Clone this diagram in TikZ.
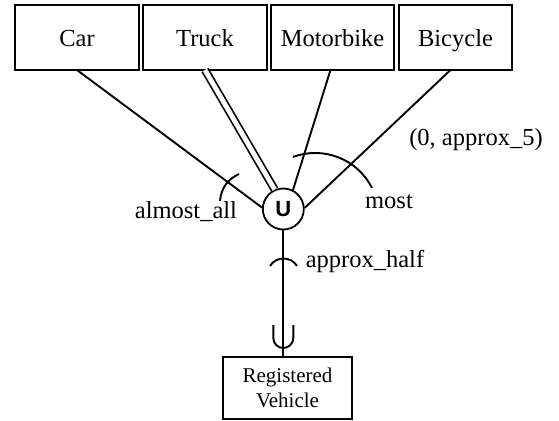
\documentclass[tikz,border=0pt]{standalone}
\usepackage{fontspec}
\setmainfont{Liberation Serif}
\newfontfamily\unionfont{Liberation Sans}
\usetikzlibrary{positioning}

\begin{document}
\begin{tikzpicture}[x=1pt,y=1pt,
		VehBox/.style={draw, line width=1.8pt, minimum height=65pt, inner sep=0pt, outer sep=0pt, text height=18pt, text depth=0pt, font=\fontsize{24.5}{28}\selectfont},
		Link/.style={line width=1.9pt},
		Quant/.style={anchor=base, inner sep=0pt, font=\fontsize{24.5}{28}\selectfont}]
		\useasboundingbox (0,0) rectangle (559,-420);
		% subclasses
		\node[VehBox, minimum width=124pt] (car) at (77,-37.5) {Car};
		\node[VehBox, minimum width=124pt, right=4pt of car] (truck) {Truck};
		\node[VehBox, minimum width=123pt, right=4pt of truck] (motorbike) {Motorbike};
		\node[VehBox, minimum width=113pt, right=5pt of motorbike] (bicycle) {Bicycle};
		% union and superclass
		\node[circle, draw, line width=1.8pt, minimum size=41pt, inner sep=0pt, font=\unionfont\bfseries\fontsize{22}{22}\selectfont] (u) at (283.3,-209) {U};
		\node[VehBox, minimum width=129pt, minimum height=62pt, text height=, text depth=, align=center, font=\fontsize{21}{25}\selectfont] (reg) at (287.5,-388) {Registered\\Vehicle};
		\draw[Link] (car.south) to (u.176);
		\draw[line width=1.7pt, double, double distance=4.8pt] (truck.south) to (u.114);
		\draw[Link] ([xshift=-2pt]motorbike.south) to (u.63);
		\draw[Link] ([xshift=-5pt]bicycle.south) to (u.3);
		\coordinate (top) at (u.south |- reg.north);
		\draw[Link] (u.south) to (top);
		% subset fork
		\coordinate (fork) at ([yshift=19pt]top);
		\draw[Link] ([xshift=-10pt,yshift=13pt]fork) -- ([xshift=-10pt]fork) arc[start angle=180, end angle=360, radius=10] -- ([xshift=10pt,yshift=13pt]fork);
		% quantifier arcs
		\draw[Link] (220,-201) .. controls (221,-188) and (228,-179) .. (239,-174);
		\draw[Link] (293,-157) arc[start angle=110.5, end angle=26.7, radius=63.5];
		\draw[Link] (270,-266) .. controls (276,-256) and (291,-256) .. (297,-266);
		\node[Quant] (almostall) at (186,-218) {almost\_all};
		\node[Quant] (most) at (389,-208) {most};
		\node[Quant] (half) at (365,-267) {approx\_half};
		\node[Quant] (five) at (476,-145) {(0, approx\_5)};
	\end{tikzpicture}
\end{document}
